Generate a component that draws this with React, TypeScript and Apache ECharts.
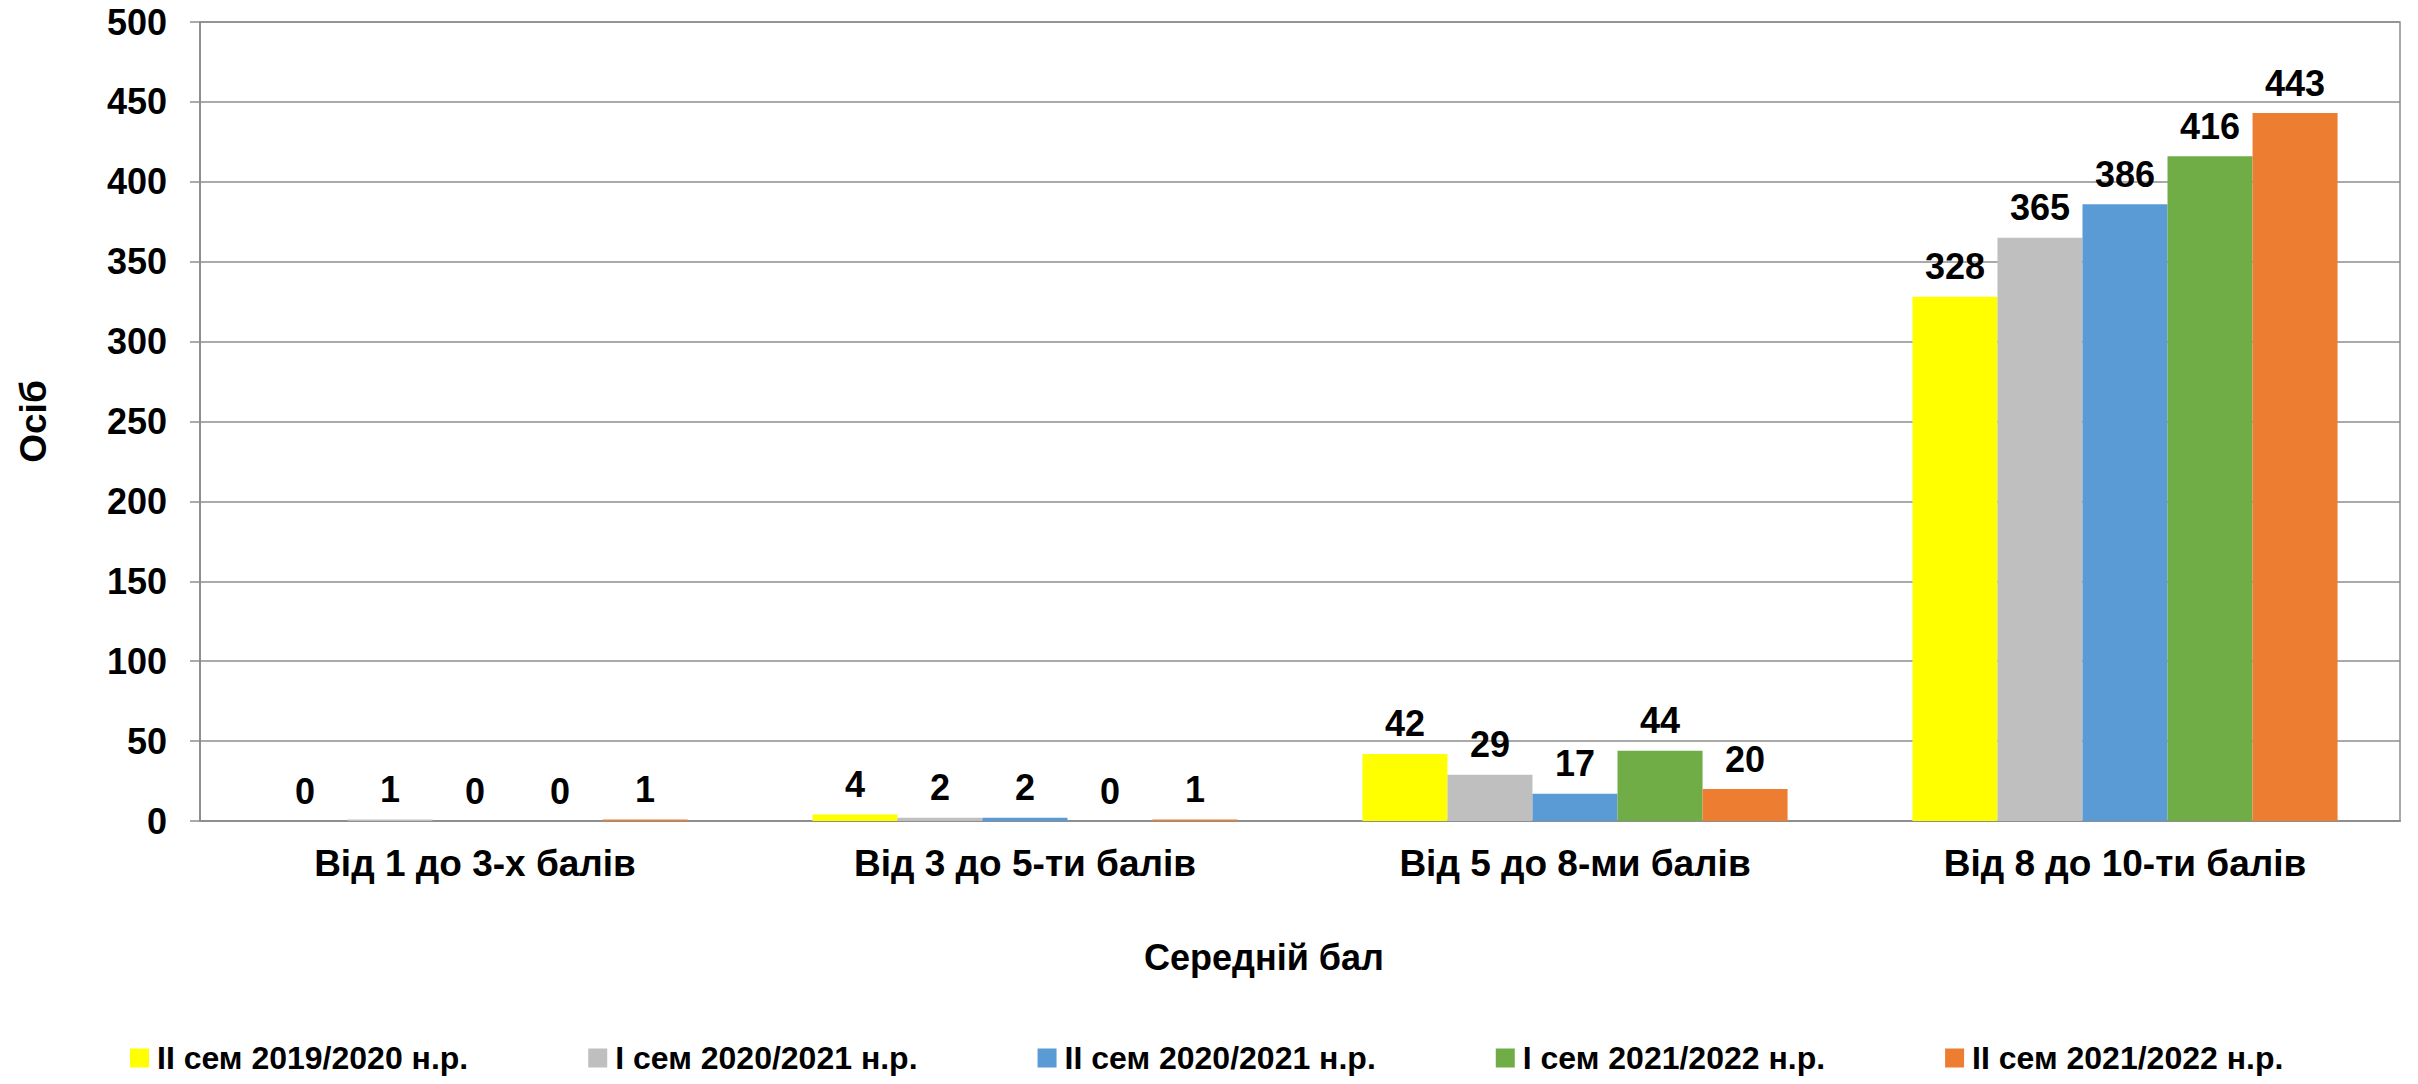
import React, { useEffect, useRef } from "react";
import * as echarts from "echarts";

const categories = ["Від 1 до 3-х балів", "Від 3 до 5-ти балів", "Від 5 до 8-ми балів", "Від 8 до 10-ти балів"];
const seriesNames = [
  "II сем 2019/2020 н.р.",
  "I сем 2020/2021 н.р.",
  "II сем 2020/2021 н.р.",
  "I сем 2021/2022 н.р.",
  "II сем 2021/2022 н.р.",
];
const s2019_2 = [0, 4, 42, 328];
const s2020_1 = [1, 2, 29, 365];
const s2020_2 = [0, 2, 17, 386];
const s2021_1 = [0, 0, 44, 416];
const s2021_2 = [1, 1, 20, 443];
const seriesValues = [s2019_2, s2020_1, s2020_2, s2021_1, s2021_2];
const colors = ["#FFFF00", "#BFBFBF", "#5B9BD5", "#70AD47", "#ED7D31"];
const yAxisTitle = "Осіб";
const xAxisTitle = "Середній бал";

const FONT = "'Liberation Sans', Arial, sans-serif";

export default function App() {
  const ref = useRef<HTMLDivElement>(null);
  useEffect(() => {
    if (!ref.current) return;
    const chart = echarts.init(ref.current, undefined, { renderer: "svg" });
    const gridColor = "#8E8E8E";
    chart.setOption({
      animation: false,
      textStyle: { fontFamily: FONT },
      grid: {
        left: 200,
        right: 18,
        top: 22,
        bottom: 263,
        show: true,
        borderColor: gridColor,
        borderWidth: 1.5,
      },
      legend: {
        left: 130,
        top: 1042,
        itemWidth: 19,
        itemHeight: 19,
        itemGap: 120,
        icon: "rect",
        padding: 0,
        textStyle: { fontFamily: FONT, fontSize: 32, fontWeight: "bold", color: "#000", padding: [0, 0, 0, 3] },
        data: seriesNames,
      },
      xAxis: {
        type: "category",
        data: categories,
        name: xAxisTitle,
        nameLocation: "middle",
        nameGap: 118,
        nameTextStyle: {
          fontFamily: FONT,
          fontSize: 36,
          fontWeight: "bold",
          color: "#000",
          padding: [0, 72, 0, 0],
        },
        axisLine: { lineStyle: { color: gridColor, width: 2 } },
        axisTick: { show: false },
        axisLabel: {
          margin: 24,
          fontFamily: FONT,
          fontSize: 37,
          fontWeight: "bold",
          color: "#000",
        },
      },
      yAxis: {
        type: "value",
        min: 0,
        max: 500,
        interval: 50,
        name: yAxisTitle,
        nameLocation: "middle",
        nameGap: 148,
        nameRotate: 90,
        nameTextStyle: { fontFamily: FONT, fontSize: 37, fontWeight: "bold", color: "#000" },
        axisLine: { show: true, lineStyle: { color: gridColor, width: 2 } },
        axisTick: { show: true, length: 10, lineStyle: { color: gridColor, width: 1.5 } },
        splitLine: { show: true, lineStyle: { color: gridColor, width: 1.5 } },
        axisLabel: {
          margin: 33,
          fontFamily: FONT,
          fontSize: 36,
          fontWeight: "bold",
          color: "#000",
        },
      },
      series: seriesNames.map((name, i) => ({
        name,
        type: "bar",
        data: seriesValues[i],
        barGap: "0%",
        barCategoryGap: "22.7%",
        itemStyle: { color: colors[i] },
        label: {
          show: true,
          position: "top",
          distance: 12,
          fontFamily: FONT,
          fontSize: 36,
          fontWeight: "bold",
          color: "#000",
        },
      })),
    });
    return () => chart.dispose();
  }, []);
  return <div ref={ref} style={{ width: 2418, height: 1084, margin: -8 }} />;
}
